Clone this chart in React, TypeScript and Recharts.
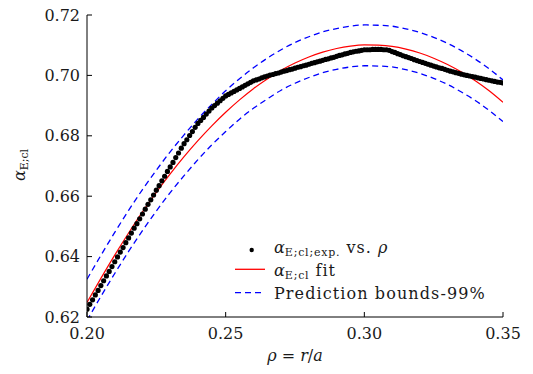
import React from "react";
import { ComposedChart, XAxis, YAxis, Scatter, Line, Legend, Label } from "recharts";

// Experimental points: rho from 0.200 to 0.350 in steps of 0.001
const EXP_RHO_START = 0.2;
const EXP_RHO_STEP = 0.001;
const EXP_ALPHA = [
  0.6226, 0.6242, 0.6257, 0.6273, 0.6288, 0.6304,
  0.6320, 0.6336, 0.6351, 0.6367, 0.6383,
  0.6399, 0.6415, 0.6430, 0.6446, 0.6462,
  0.6478, 0.6494, 0.6509, 0.6525, 0.6541,
  0.6557, 0.6573, 0.6588, 0.6604, 0.6620,
  0.6635, 0.6651, 0.6666, 0.6682, 0.6697,
  0.6712, 0.6728, 0.6743, 0.6759, 0.6774,
  0.6787, 0.6801, 0.6814, 0.6828, 0.6841,
  0.6851, 0.6861, 0.6872, 0.6882, 0.6892,
  0.6900, 0.6908, 0.6916, 0.6924, 0.6932,
  0.6937, 0.6942, 0.6947, 0.6952, 0.6957,
  0.6962, 0.6967, 0.6972, 0.6977, 0.6982,
  0.6985, 0.6988, 0.6992, 0.6995, 0.6998,
  0.7001, 0.7003, 0.7006, 0.7008, 0.7011,
  0.7014, 0.7016, 0.7019, 0.7021, 0.7024,
  0.7027, 0.7029, 0.7032, 0.7034, 0.7037,
  0.7040, 0.7042, 0.7045, 0.7047, 0.7050,
  0.7053, 0.7055, 0.7058, 0.7060, 0.7063,
  0.7066, 0.7068, 0.7071, 0.7073, 0.7076,
  0.7078, 0.7080, 0.7081, 0.7083, 0.7085,
  0.7085, 0.7085, 0.7086, 0.7086, 0.7086,
  0.7086, 0.7085, 0.7085, 0.7083, 0.7079,
  0.7076, 0.7072, 0.7069, 0.7065, 0.7062,
  0.7059, 0.7056, 0.7052, 0.7049, 0.7046,
  0.7043, 0.7040, 0.7037, 0.7034, 0.7031,
  0.7028, 0.7025, 0.7023, 0.7020, 0.7017,
  0.7014, 0.7012, 0.7009, 0.7007, 0.7004,
  0.7002, 0.7000, 0.6998, 0.6996, 0.6994,
  0.6992, 0.6990, 0.6988, 0.6986, 0.6984,
  0.6982, 0.6980, 0.6978, 0.6977, 0.6975,
];

// Fit and prediction bounds
const FIT_RHO = [
  0.200, 0.205, 0.210, 0.215, 0.220, 0.225, 0.230, 0.235, 0.240, 0.245,
  0.250, 0.255, 0.260, 0.265, 0.270, 0.275, 0.280, 0.285, 0.290, 0.295,
  0.300, 0.305, 0.310, 0.315, 0.320, 0.325, 0.330, 0.335, 0.340, 0.345, 0.350,
];
const FIT_ALPHA = [
  0.6248, 0.6328, 0.6405, 0.6478, 0.6548, 0.6613, 0.6674, 0.6731, 0.6784, 0.6833,
  0.6878, 0.6919, 0.6956, 0.6988, 0.7017, 0.7041, 0.7061, 0.7077, 0.7089, 0.7097,
  0.7101, 0.7100, 0.7096, 0.7087, 0.7074, 0.7057, 0.7036, 0.7011, 0.6982, 0.6949, 0.6911,
];
const UPPER_ALPHA = [
  0.6325, 0.6404, 0.6480, 0.6553, 0.6622, 0.6686, 0.6747, 0.6803, 0.6856, 0.6904,
  0.6949, 0.6989, 0.7025, 0.7057, 0.7085, 0.7109, 0.7128, 0.7144, 0.7155, 0.7163,
  0.7167, 0.7166, 0.7163, 0.7154, 0.7142, 0.7126, 0.7106, 0.7082, 0.7054, 0.7022, 0.6985,
];
const LOWER_ALPHA = [
  0.6188, 0.6268, 0.6344, 0.6417, 0.6486, 0.6551, 0.6612, 0.6668, 0.6721, 0.6770,
  0.6814, 0.6855, 0.6891, 0.6922, 0.6951, 0.6974, 0.6993, 0.7009, 0.7020, 0.7028,
  0.7032, 0.7031, 0.7028, 0.7019, 0.7007, 0.6990, 0.6970, 0.6945, 0.6917, 0.6884, 0.6847,
];

const X_TICKS = [0.2, 0.25, 0.3, 0.35];
const Y_TICKS = [0.62, 0.64, 0.66, 0.68, 0.7, 0.72];

const expData = EXP_ALPHA.map((y, i) => ({
  x: Math.round((EXP_RHO_START + i * EXP_RHO_STEP) * 1000) / 1000,
  y,
}));
const fitData = FIT_RHO.map((x, i) => ({ x, y: FIT_ALPHA[i] }));
const upperData = FIT_RHO.map((x, i) => ({ x, y: UPPER_ALPHA[i] }));
const lowerData = FIT_RHO.map((x, i) => ({ x, y: LOWER_ALPHA[i] }));

const FONT = "'DejaVu Serif', serif";
const TXT = "#1a1a1a";
const RED = "#ff0000";
const BLUE = "#0000ff";

const Dot = (props: any) => <circle cx={props.cx} cy={props.cy} r={2.6} fill="#000" />;

const LegendContent = () => (
  <svg width={280} height={72} style={{ display: "block", overflow: "visible" }}>
    <g fontFamily={FONT} fill={TXT}>
      <circle cx={21.7} cy={14} r={2.2} fill="#000" />
      <text x={44} y={16.7} fontSize={16}>
        <tspan fontStyle="italic">α</tspan>
        <tspan fontSize={11} dy={3} letterSpacing={0.8}>E;cl;exp.</tspan>
        <tspan dy={-3} letterSpacing={1}> vs. </tspan>
        <tspan fontStyle="italic">ρ</tspan>
      </text>
      <line x1={5} x2={35} y1={33.3} y2={33.3} stroke={RED} strokeWidth={1.3} />
      <text x={44} y={40} fontSize={16}>
        <tspan fontStyle="italic">α</tspan>
        <tspan fontSize={11} dy={3} letterSpacing={0.8}>E;cl</tspan>
        <tspan dy={-3} letterSpacing={1}> fit</tspan>
      </text>
      <line x1={5} x2={35} y1={56.7} y2={56.7} stroke={BLUE} strokeWidth={1.3} strokeDasharray="6 4" />
      <text x={44} y={63.3} fontSize={16} letterSpacing={1.1}>
        Prediction bounds-99%
      </text>
    </g>
  </svg>
);

const YLabel = () => (
  <text transform="translate(25,165) rotate(-90)" textAnchor="middle" fontFamily={FONT} fill={TXT} fontSize={16}>
    <tspan fontStyle="italic">α</tspan>
    <tspan fontSize={11} dy={3}>E;cl</tspan>
  </text>
);

const XLabel = () => (
  <text x={295} y={361} textAnchor="middle" fontFamily={FONT} fill={TXT} fontSize={16}>
    <tspan fontStyle="italic">ρ</tspan>
    <tspan> = </tspan>
    <tspan fontStyle="italic">r</tspan>
    <tspan>/</tspan>
    <tspan fontStyle="italic">a</tspan>
  </text>
);

export default function App() {
  const tickStyle = { fontFamily: FONT, fontSize: 16, fill: TXT };
  return (
    <div style={{ position: "absolute", left: 0, top: 0, width: 533, height: 374, background: "#fff" }}>
      <ComposedChart width={533} height={374} margin={{ top: 15, right: 30, bottom: 0, left: 0 }}>
        <XAxis
          xAxisId="x"
          dataKey="x"
          type="number"
          domain={[0.2, 0.35]}
          ticks={X_TICKS}
          tickFormatter={(v: number) => v.toFixed(2)}
          height={57}
          tickSize={-5}
          tickMargin={16}
          tick={tickStyle}
          stroke="#000"
          axisLine={{ stroke: "#000", strokeWidth: 1 }}
          tickLine={{ stroke: "#000", strokeWidth: 1 }}
          allowDataOverflow
        >
          <Label content={<XLabel />} />
        </XAxis>
        <XAxis xAxisId="top" orientation="top" type="number" domain={[0.2, 0.35]} height={0} tick={false} tickLine={false} axisLine={{ stroke: "#000", strokeWidth: 1 }} />
        <YAxis
          yAxisId="y"
          dataKey="y"
          type="number"
          domain={[0.62, 0.72]}
          ticks={Y_TICKS}
          tickFormatter={(v: number) => v.toFixed(2)}
          width={87}
          tickSize={-5}
          tickMargin={12}
          tick={tickStyle}
          stroke="#000"
          axisLine={{ stroke: "#000", strokeWidth: 1 }}
          tickLine={{ stroke: "#000", strokeWidth: 1 }}
          allowDataOverflow
        >
          <Label content={<YLabel />} />
        </YAxis>
        <YAxis yAxisId="right" orientation="right" type="number" domain={[0.62, 0.72]} width={0} tick={false} tickLine={false} axisLine={{ stroke: "#000", strokeWidth: 1 }} />
        <Line xAxisId="x" yAxisId="y" data={upperData} dataKey="y" type="monotone" stroke={BLUE} strokeWidth={1.3} strokeDasharray="6 4" dot={false} isAnimationActive={false} legendType="none" />
        <Line xAxisId="x" yAxisId="y" data={lowerData} dataKey="y" type="monotone" stroke={BLUE} strokeWidth={1.3} strokeDasharray="6 4" dot={false} isAnimationActive={false} legendType="none" />
        <Scatter xAxisId="x" yAxisId="y" data={expData} dataKey="y" fill="#000" shape={<Dot />} isAnimationActive={false} legendType="none" />
        <Line xAxisId="x" yAxisId="y" data={fitData} dataKey="y" type="monotone" stroke={RED} strokeWidth={1.2} dot={false} isAnimationActive={false} legendType="none" />
        <Legend
          layout="vertical"
          align="center"
          verticalAlign="middle"
          content={<LegendContent />}
          wrapperStyle={{ position: "absolute", left: 230, top: 236, width: 280, height: 72 }}
        />
      </ComposedChart>
    </div>
  );
}
